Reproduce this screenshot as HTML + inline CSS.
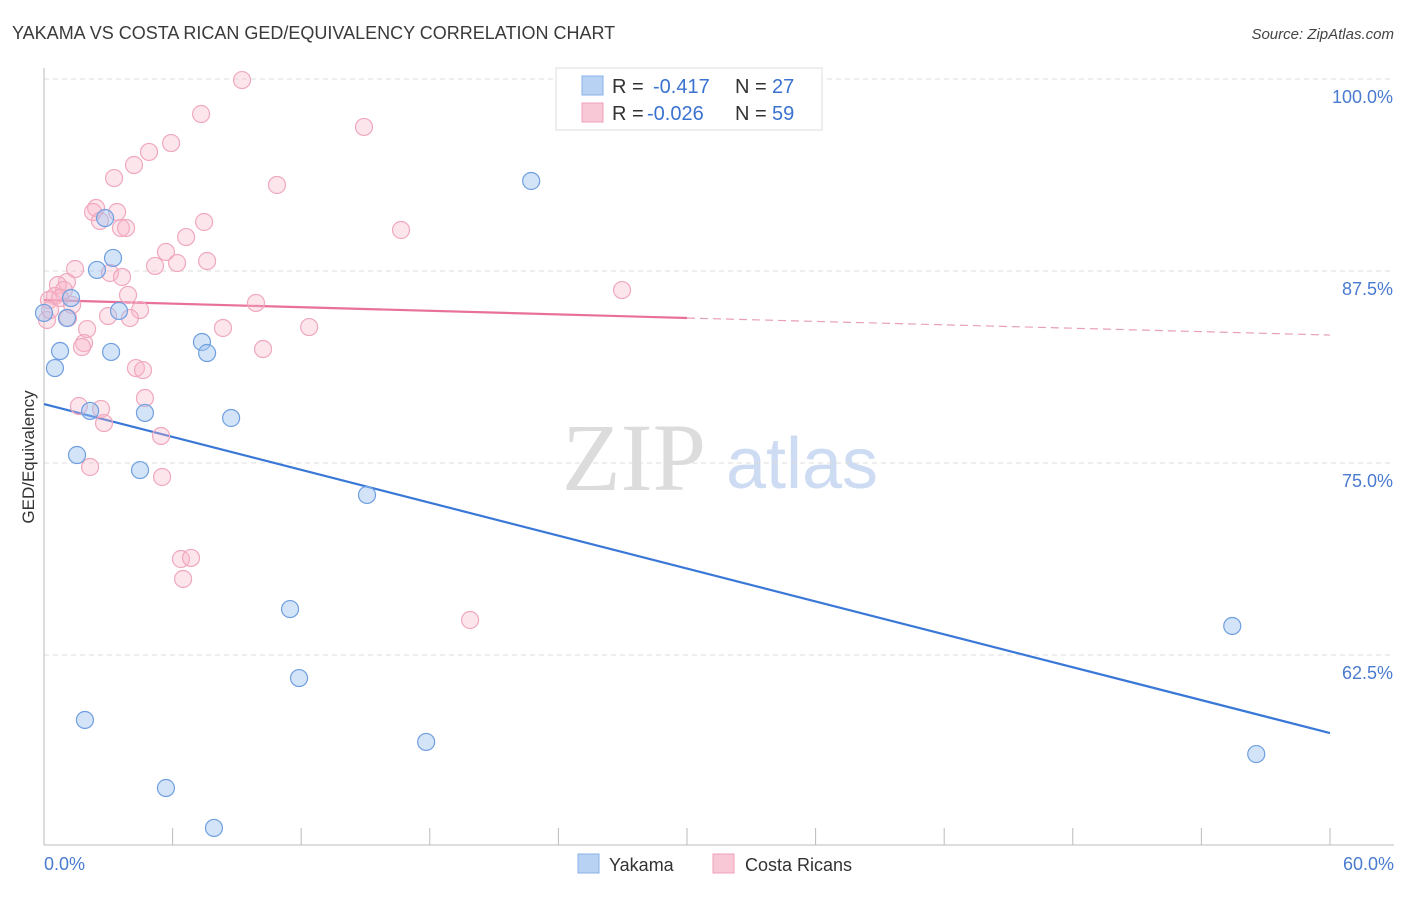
<!DOCTYPE html>
<html><head><meta charset="utf-8"><style>
body{margin:0;background:#fff;font-family:"Liberation Sans",sans-serif}
</style></head><body>
<svg width="1406" height="892" xmlns="http://www.w3.org/2000/svg" id="c" font-family="Liberation Sans, sans-serif">
<text x="12" y="39" font-size="18" fill="#3a3a3a">YAKAMA VS COSTA RICAN GED/EQUIVALENCY CORRELATION CHART</text>
<text x="1394" y="39" font-size="15" fill="#444" text-anchor="end" font-style="italic">Source: ZipAtlas.com</text>
<g>
<text x="634" y="490" font-size="96" fill="#dcdcdc" text-anchor="middle" style="font-family:'Liberation Serif',serif">ZIP</text>
<text x="802" y="488" font-size="72" fill="#cddcf2" text-anchor="middle">atlas</text>
</g>
<g id="grid"></g>
<g id="axes"></g>
<g id="lines"></g>
<g id="pts"></g>
<text transform="translate(34,457) rotate(-90)" font-size="17" fill="#333" text-anchor="middle">GED/Equivalency</text>
<text x="44" y="870" font-size="18" fill="#4a7bd0">0.0%</text>
<text x="1394" y="870" font-size="18" fill="#4a7bd0" text-anchor="end">60.0%</text>
<g font-size="20">
<rect x="556" y="68" width="266" height="62" fill="#fff" stroke="#ddd"/>
<rect x="582" y="76" width="21" height="19" fill="#b8d2f4" stroke="#8ab0e8"/>
<rect x="582" y="103" width="21" height="19" fill="#f9c8d6" stroke="#f0a0b8"/>
<text x="612" y="93" fill="#333">R =</text>
<text x="653" y="93" fill="#3a72d0">-0.417</text>
<text x="735" y="93" fill="#333">N =</text>
<text x="772" y="93" fill="#3a72d0">27</text>
<text x="612" y="120" fill="#333">R =</text>
<text x="647" y="120" fill="#3a72d0">-0.026</text>
<text x="735" y="120" fill="#333">N =</text>
<text x="772" y="120" fill="#3a72d0">59</text>
</g>
<g>
<rect x="578" y="854" width="21" height="19" fill="#b8d2f4" stroke="#8ab0e8"/>
<text x="609" y="871" font-size="18" fill="#333">Yakama</text>
<rect x="713" y="854" width="21" height="19" fill="#f9c8d6" stroke="#f0a0b8"/>
<text x="745" y="871" font-size="18" fill="#333">Costa Ricans</text>
</g>
</svg>
<script>
const yakamaX=[22.73,3.22,2.47,2.85,1.26,1.07,3.50,0.0,0.75,0.51,3.13,7.37,7.61,8.73,4.71,2.15,1.54,4.48,15.07,11.48,11.90,1.91,17.83,5.69,7.93,55.44,56.56];
const yakamaY=[93.36,88.35,87.57,90.95,85.74,84.44,84.90,84.77,82.29,81.18,82.23,82.88,82.16,77.93,78.26,78.39,75.52,74.54,72.92,65.49,61.00,58.27,56.84,53.84,51.24,64.39,56.05];
const costaX=[9.24,7.33,14.93,5.93,4.90,4.20,3.27,10.87,2.43,2.29,3.41,2.61,7.47,3.59,3.83,16.66,6.63,5.69,7.61,5.18,6.21,1.45,3.08,3.64,1.07,0.65,0.93,0.51,0.23,3.92,9.89,4.48,2.99,1.12,4.01,8.35,12.37,2.01,1.87,1.77,10.22,4.29,4.62,4.71,1.63,2.66,2.80,5.46,2.15,5.51,6.39,6.86,6.49,19.88,26.97,0.14,0.28,0.75,1.31];
const costaY=[99.93,97.72,96.88,95.83,95.25,94.40,93.55,93.10,91.60,91.34,91.34,90.76,90.69,90.30,90.30,90.17,89.71,88.74,88.15,87.83,88.02,87.63,87.37,87.11,86.78,86.59,86.26,85.87,85.61,85.94,85.42,84.96,84.57,84.44,84.44,83.79,83.85,83.72,82.81,82.55,82.42,81.18,81.05,79.23,78.71,78.52,77.60,76.76,74.74,74.09,68.75,68.82,67.45,64.78,86.26,84.31,84.96,85.74,85.29];
const yTicks=[100,87.5,75,62.5];
const yTickLabels=["100.0%","87.5%","75.0%","62.5%"];
const xTicks=[0,6,12,18,24,30,36,42,48,54,60];
const blueTrend=[78.84,57.42];
const pinkTrend=[85.61,84.44,83.33];
const NS="http://www.w3.org/2000/svg";
const X=v=>44+v*21.433, Y=v=>79+(100-v)*15.36;
function mk(p,t,a){const e=document.createElementNS(NS,t);for(const k in a)e.setAttribute(k,a[k]);document.getElementById(p).appendChild(e);return e;}
yTicks.forEach((t,i)=>{
 const l=mk('grid','line',{x1:44,x2:1394,y1:Y(t),y2:Y(t),stroke:'#ddd','stroke-dasharray':'5,4'});
 
 
 const tx=mk('grid','text',{x:1393,y:Y(t)+24,'font-size':18,fill:'#4a7bd0','text-anchor':'end'});
 tx.textContent=yTickLabels[i];
 
 
});
const ax=mk('axes','line',{x1:44,x2:44,y1:68,y2:845,stroke:'#bbb'});


const bx=mk('axes','line',{x1:44,x2:1394,y1:845,y2:845,stroke:'#bbb'});


xTicks.forEach(t=>{const l=mk('axes','line',{x1:X(t),x2:X(t),y1:828,y2:845,stroke:'#bbb'});
 
 });
function pts(xs,ys,fill,stroke,name){xs.forEach((x,i)=>{const c=mk('pts','circle',{cx:X(x),cy:Y(ys[i]),r:8.5,fill:fill,stroke:stroke,'stroke-width':1.2});
 
 });}
pts(costaX,costaY,'rgba(248,180,200,0.35)','#f0a8be','costa-rican-point');
pts(yakamaX,yakamaY,'rgba(160,196,240,0.45)','#6f9fe0','yakama-point');
const bl=mk('lines','line',{x1:X(0),y1:Y(blueTrend[0]),x2:X(60),y2:Y(blueTrend[1]),stroke:'#3a78d8','stroke-width':2.2});


const pl=mk('lines','line',{x1:X(0),y1:Y(pinkTrend[0]),x2:X(30),y2:Y(pinkTrend[1]),stroke:'#e8709a','stroke-width':2.2});


const pd=mk('lines','line',{x1:X(30),y1:Y(pinkTrend[1]),x2:X(60),y2:Y(pinkTrend[2]),stroke:'#e8a0b8','stroke-width':1.2,'stroke-dasharray':'8,5'});


</script>
</body></html>
